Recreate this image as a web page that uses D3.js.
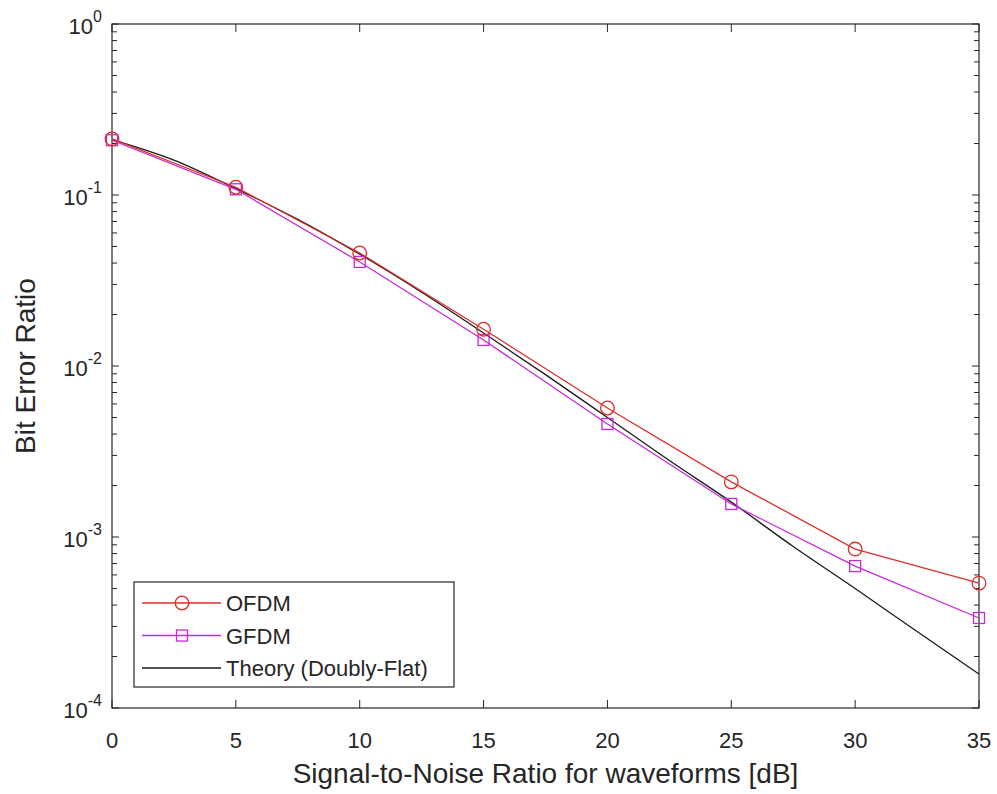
<!DOCTYPE html>
<html>
<head>
<meta charset="utf-8">
<script src="https://cdn.jsdelivr.net/npm/d3@7"></script>
<style>
  body { margin: 0; background: #fff; }
  text { font-family: "Liberation Sans", Arial, sans-serif; fill: #262626; }
</style>
</head>
<body>
<div id="chart"></div>
<script>
var width = 997, height = 794;
var margin = {left: 112, right: 18, top: 24, bottom: 86};

// data
var snr = [0, 5, 10, 15, 20, 25, 30, 35];
var ofdm = [0.213, 0.111, 0.0458, 0.0164, 0.00568, 0.0021, 0.00085, 0.000537];
var gfdm = [0.209, 0.108, 0.0406, 0.0142, 0.00458, 0.00156, 0.000676, 0.000336];
var theorySnr = [0, 2.5, 5, 7.5, 10, 12.5, 15, 17.5, 20, 22.5, 25, 27.5, 30, 32.5, 35];
var theory = [0.211, 0.16, 0.109, 0.072, 0.045, 0.027, 0.0156, 0.0089, 0.005, 0.0028, 0.0016, 0.00088, 0.0005, 0.00028, 0.000158];
var xTicks = [0, 5, 10, 15, 20, 25, 30, 35];
var yDecades = [0, -1, -2, -3, -4];
var legendNames = ["OFDM", "GFDM", "Theory (Doubly-Flat)"];

var colors = {ofdm: "#dc2f2a", gfdm: "#c52ad6", theory: "#1a1a1a"};

var svg = d3.select("#chart").append("svg")
  .attr("width", width)
  .attr("height", height);

var x = d3.scaleLinear().domain([0, 35]).range([margin.left, width - margin.right]);
var y = d3.scaleLog().domain([1e-4, 1]).range([height - margin.bottom, margin.top]);

var x0 = x.range()[0], x1 = x.range()[1], y0 = y.range()[0], y1 = y.range()[1];

// ticks (inside, on all four sides)
var ticks = svg.append("g").attr("stroke", "#262626").attr("stroke-width", 1);
xTicks.forEach(function(t){
  ticks.append("line").attr("x1", x(t)).attr("x2", x(t)).attr("y1", y0).attr("y2", y0 - 8);
  ticks.append("line").attr("x1", x(t)).attr("x2", x(t)).attr("y1", y1).attr("y2", y1 + 8);
});
yDecades.forEach(function(d){
  var v = Math.pow(10, d);
  ticks.append("line").attr("x1", x0).attr("x2", x0 + 7).attr("y1", y(v)).attr("y2", y(v));
  ticks.append("line").attr("x1", x1).attr("x2", x1 - 7).attr("y1", y(v)).attr("y2", y(v));
  if (d > -4) {
    for (var m = 2; m <= 9; m++) {
      var mv = m * Math.pow(10, d - 1);
      ticks.append("line").attr("x1", x0).attr("x2", x0 + 5).attr("y1", y(mv)).attr("y2", y(mv));
      ticks.append("line").attr("x1", x1).attr("x2", x1 - 5).attr("y1", y(mv)).attr("y2", y(mv));
    }
  }
});

// box
svg.append("rect")
  .attr("x", x0).attr("y", y1)
  .attr("width", x1 - x0).attr("height", y0 - y1)
  .attr("fill", "none").attr("stroke", "#262626").attr("stroke-width", 1.2);

// tick labels
svg.append("g").selectAll("text").data(xTicks).enter().append("text")
  .attr("x", function(d){ return x(d); })
  .attr("y", y0 + 40)
  .attr("text-anchor", "middle")
  .attr("font-size", 22)
  .text(function(d){ return d; });

var yl = svg.append("g").selectAll("g").data(yDecades).enter().append("text")
  .attr("x", x0 - 10)
  .attr("y", function(d){ return y(Math.pow(10, d)) + 10; })
  .attr("text-anchor", "end")
  .attr("font-size", 22);
yl.append("tspan").text("10");
yl.append("tspan").attr("dy", -12).attr("font-size", 16).text(function(d){ return d; });

// axis labels
svg.append("text")
  .attr("x", (x0 + x1) / 2)
  .attr("y", height - 11)
  .attr("text-anchor", "middle")
  .attr("font-size", 28)
  .text("Signal-to-Noise Ratio for waveforms [dB]");

svg.append("text")
  .attr("transform", "translate(35," + ((y0 + y1) / 2) + ") rotate(-90)")
  .attr("text-anchor", "middle")
  .attr("font-size", 28)
  .text("Bit Error Ratio");

// lines
var line = d3.line()
  .x(function(d){ return x(d[0]); })
  .y(function(d){ return y(d[1]); });

svg.append("path")
  .datum(d3.zip(theorySnr, theory))
  .attr("d", line.curve(d3.curveMonotoneX))
  .attr("fill", "none").attr("stroke", colors.theory).attr("stroke-width", 1.3);

line.curve(d3.curveLinear);

svg.append("path")
  .datum(d3.zip(snr, gfdm))
  .attr("d", line)
  .attr("fill", "none").attr("stroke", colors.gfdm).attr("stroke-width", 1.3);

svg.append("path")
  .datum(d3.zip(snr, ofdm))
  .attr("d", line)
  .attr("fill", "none").attr("stroke", colors.ofdm).attr("stroke-width", 1.3);

// markers
svg.append("g").selectAll("rect").data(d3.zip(snr, gfdm)).enter().append("rect")
  .attr("x", function(d){ return x(d[0]) - 5.5; })
  .attr("y", function(d){ return y(d[1]) - 5.5; })
  .attr("width", 11).attr("height", 11)
  .attr("fill", "none").attr("stroke", colors.gfdm).attr("stroke-width", 1.3);

svg.append("g").selectAll("circle").data(d3.zip(snr, ofdm)).enter().append("circle")
  .attr("cx", function(d){ return x(d[0]); })
  .attr("cy", function(d){ return y(d[1]); })
  .attr("r", 6.8)
  .attr("fill", "none").attr("stroke", colors.ofdm).attr("stroke-width", 1.3);

// legend
var lg = svg.append("g").attr("transform", "translate(134,582)");
lg.append("rect").attr("width", 320).attr("height", 105)
  .attr("fill", "#fff").attr("stroke", "#262626").attr("stroke-width", 1.2);
var rows = [colors.ofdm, colors.gfdm, colors.theory];
rows.forEach(function(c, i){
  var ry = 21 + i * 32.5;
  lg.append("line").attr("x1", 8).attr("x2", 87).attr("y1", ry).attr("y2", ry)
    .attr("stroke", c).attr("stroke-width", 1.3);
  if (i == 0) lg.append("circle").attr("cx", 48).attr("cy", ry).attr("r", 6.8)
    .attr("fill", "none").attr("stroke", c).attr("stroke-width", 1.3);
  if (i == 1) lg.append("rect").attr("x", 42.5).attr("y", ry - 5.5).attr("width", 11).attr("height", 11)
    .attr("fill", "none").attr("stroke", c).attr("stroke-width", 1.3);
  lg.append("text").attr("x", 92).attr("y", ry + 8).attr("font-size", 22).text(legendNames[i]);
});
</script>
</body>
</html>
